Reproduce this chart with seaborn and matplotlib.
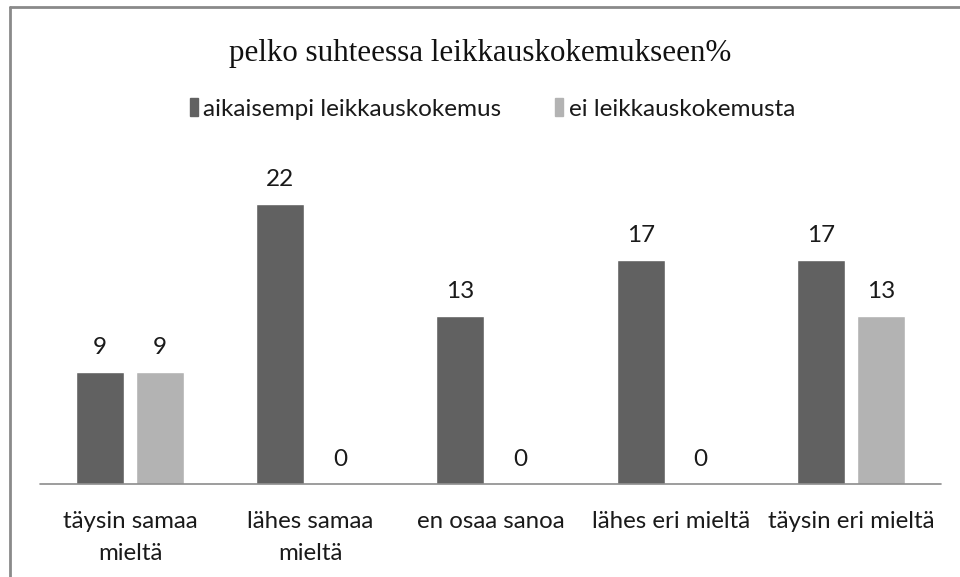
import matplotlib
matplotlib.use("Agg")
import matplotlib.pyplot as plt
import seaborn as sns
import pandas as pd
from matplotlib.lines import Line2D

categories = ["täysin samaa\nmieltä", "lähes samaa\nmieltä", "en osaa sanoa",
              "lähes eri mieltä", "täysin eri mieltä"]
series_names = ["aikaisempi leikkauskokemus", "ei leikkauskokemusta"]
aikaisempi = [8.7, 21.7, 13.0, 17.4, 17.4]
ei_kokemusta = [8.7, 0.0, 0.0, 0.0, 13.0]
title = "pelko suhteessa leikkauskokemukseen%"
colors = ["#616161", "#b3b3b3"]

df = pd.DataFrame({
    "kategoria": categories * 2,
    "sarja": [series_names[0]] * 5 + [series_names[1]] * 5,
    "arvo": aikaisempi + ei_kokemusta,
})

sns.set_theme(style="white")
plt.rcParams["font.family"] = ["Lato", "DejaVu Sans"]

fig = plt.figure(figsize=(9.6, 5.77), dpi=100)
W, H = 960, 577
left, right = 40 / W, 941 / W
bottom = 1 - 484 / H
top = 1 - 161.5 / H
ax = fig.add_axes([left, bottom, right - left, top - bottom])

sns.barplot(data=df, x="kategoria", y="arvo", hue="sarja", order=categories,
            hue_order=series_names, palette=colors, width=0.666, gap=0.2,
            saturation=1, ax=ax, legend=False)

ax.set_ylim(0, 25)
ax.set_xlim(-0.5, 4.5)
for s in ["top", "right", "left", "bottom"]:
    ax.spines[s].set_visible(False)
ax.axhline(0, xmin=0, xmax=1, color="#8c8c8c", lw=1.2, clip_on=False, zorder=3)
ax.set_yticks([])
ax.set_xlabel("")
ax.set_ylabel("")
ax.tick_params(axis="x", length=0, pad=19.5, labelsize=17.3, colors="#1a1a1a")
for lbl in ax.get_xticklabels():
    lbl.set_linespacing(1.65)

for cont in ax.containers:
    ax.bar_label(cont, labels=[f"{v:.0f}" for v in cont.datavalues],
                 padding=10, fontsize=17.5, color="#1a1a1a")

fig.text(0.5, 1 - 53 / H, title, ha="center", va="center",
         fontsize=22.3, family=["Liberation Serif", "DejaVu Serif"], color="#111111")

handles = [plt.Rectangle((0, 0), 1, 1, color=c) for c in colors]
fig.legend(handles, series_names, loc="center", bbox_to_anchor=(0.513, 1 - 109 / H),
           ncol=2, frameon=False, fontsize=17.5, handlelength=0.34, handleheight=0.7,
           handletextpad=0.22, columnspacing=2.2, labelcolor="#1a1a1a")

fig.add_artist(Line2D([9.5 / W, 1.0], [1 - 7 / H, 1 - 7 / H], color="#8a8a8a", lw=2))
fig.add_artist(Line2D([10 / W, 10 / W], [0, 1 - 7 / H], color="#8a8a8a", lw=2))

fig.savefig("out.png", dpi=100)
